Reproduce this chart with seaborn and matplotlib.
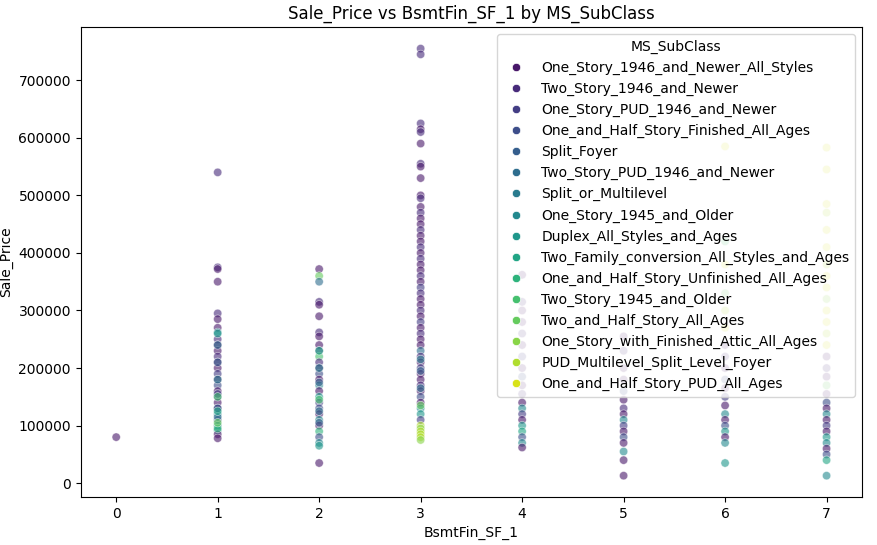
import numpy as np
import pandas as pd
import matplotlib
matplotlib.use("Agg")
import matplotlib.pyplot as plt
import seaborn as sns

subclasses = [
    "One_Story_1946_and_Newer_All_Styles", "Two_Story_1946_and_Newer",
    "One_Story_PUD_1946_and_Newer", "One_and_Half_Story_Finished_All_Ages",
    "Split_Foyer", "Two_Story_PUD_1946_and_Newer", "Split_or_Multilevel",
    "One_Story_1945_and_Older", "Duplex_All_Styles_and_Ages",
    "Two_Family_conversion_All_Styles_and_Ages",
    "One_and_Half_Story_Unfinished_All_Ages", "Two_Story_1945_and_Older",
    "Two_and_Half_Story_All_Ages", "One_Story_with_Finished_Attic_All_Ages",
    "PUD_Multilevel_Split_Level_Foyer", "One_and_Half_Story_PUD_All_Ages",
]

# per BsmtFin_SF_1 value: sale prices and subclass index
x0_price = [80000]
x0_cls = [0]
x1_price = [540000, 375000, 372000, 350000, 295000, 285000, 270000, 262000, 250000, 240000,
            230000, 220000, 210000, 200000, 190000, 180000, 170000, 160000, 150000, 140000,
            130000, 120000, 110000, 100000, 92000, 85000, 78000, 260000, 240000, 210000,
            180000, 155000, 130000, 115000, 95000, 150000, 125000, 105000]
x1_cls = [1, 1, 0, 0, 1, 0, 0, 7, 1, 0, 0, 1, 0, 0, 2, 0, 3, 0, 3, 0,
          0, 7, 3, 7, 8, 0, 0, 8, 5, 4, 6, 2, 4, 5, 10, 11, 9, 12]
x2_price = [372000, 360000, 350000, 315000, 310000, 290000, 262000, 255000, 240000, 230000,
            220000, 210000, 200000, 190000, 180000, 170000, 160000, 150000, 140000, 130000,
            120000, 110000, 100000, 90000, 80000, 70000, 65000, 35000, 230000, 200000,
            175000, 145000, 125000, 105000]
x2_cls = [0, 12, 5, 1, 0, 0, 1, 0, 0, 2, 11, 1, 0, 3, 0, 7, 0, 8, 2, 3,
          0, 7, 0, 10, 3, 7, 8, 0, 9, 6, 4, 11, 5, 4]
x3_price = [755000, 745000, 625000, 615000, 610000, 590000, 555000, 550000, 530000, 500000,
            495000, 480000, 470000, 460000, 450000, 440000, 430000, 420000, 410000, 400000,
            390000, 380000, 370000, 360000, 350000, 340000, 330000, 320000, 310000, 300000,
            290000, 280000, 270000, 260000, 250000, 240000, 230000, 220000, 210000, 200000,
            190000, 180000, 170000, 160000, 150000, 140000, 130000, 120000, 110000, 100000,
            95000, 90000, 85000, 80000, 75000, 215000, 195000, 165000, 135000]
x3_cls = [1, 1, 1, 0, 1, 0, 1, 0, 0, 0, 1, 0, 1, 0, 0, 1, 0, 0, 1, 0,
          1, 0, 0, 1, 0, 2, 1, 0, 0, 1, 0, 2, 0, 1, 0, 0, 5, 1, 0, 2,
          0, 0, 1, 0, 3, 0, 7, 8, 2, 14, 13, 14, 14, 14, 13, 6, 4, 5, 12]
x4_price = [362000, 315000, 300000, 280000, 260000, 240000, 220000, 200000, 185000, 170000,
            155000, 140000, 130000, 120000, 110000, 100000, 90000, 80000, 70000, 62000]
x4_cls = [0, 1, 0, 0, 1, 0, 2, 0, 3, 0, 1, 0, 7, 2, 0, 8, 9, 3, 7, 0]
x5_price = [255000, 230000, 200000, 180000, 160000, 145000, 130000, 120000, 110000, 100000,
            90000, 80000, 70000, 55000, 40000, 13000]
x5_cls = [0, 1, 0, 0, 3, 0, 1, 0, 7, 2, 0, 3, 0, 7, 0, 0]
x6_price = [585000, 420000, 380000, 330000, 300000, 270000, 240000, 220000, 200000, 180000,
            165000, 150000, 135000, 120000, 110000, 100000, 90000, 80000, 70000, 35000]
x6_cls = [15, 11, 15, 12, 14, 15, 0, 1, 0, 3, 0, 2, 0, 7, 0, 3, 8, 0, 7, 8]
x7_price = [583000, 545000, 485000, 470000, 440000, 410000, 380000, 360000, 340000, 320000,
            300000, 280000, 260000, 240000, 220000, 200000, 185000, 170000, 155000, 140000,
            130000, 120000, 110000, 100000, 90000, 80000, 70000, 60000, 50000, 40000, 13000]
x7_cls = [15, 15, 15, 14, 15, 15, 14, 15, 15, 13, 15, 15, 14, 15, 0, 1, 0, 12, 0, 3,
          0, 7, 0, 2, 0, 8, 7, 0, 3, 9, 7]

cols = [(0, x0_price, x0_cls), (1, x1_price, x1_cls), (2, x2_price, x2_cls),
        (3, x3_price, x3_cls), (4, x4_price, x4_cls), (5, x5_price, x5_cls),
        (6, x6_price, x6_cls), (7, x7_price, x7_cls)]
rows = []
for x, prices, classes in cols:
    for p, c in zip(prices, classes):
        rows.append({"BsmtFin_SF_1": x, "Sale_Price": p, "MS_SubClass": subclasses[c]})
df = pd.DataFrame(rows)

fig, ax = plt.subplots(figsize=(8.77, 5.45), dpi=100)
fig.subplots_adjust(left=0.092, right=0.983, top=0.95, bottom=0.088)
sns.scatterplot(data=df, x="BsmtFin_SF_1", y="Sale_Price", hue="MS_SubClass",
                hue_order=subclasses, palette="viridis", alpha=0.6, ax=ax)
ax.set_title("Sale_Price vs BsmtFin_SF_1 by MS_SubClass")
leg = ax.legend(title="MS_SubClass", loc="upper right")
for h in leg.legend_handles:
    h.set_alpha(1)
fig.savefig("out.png")
